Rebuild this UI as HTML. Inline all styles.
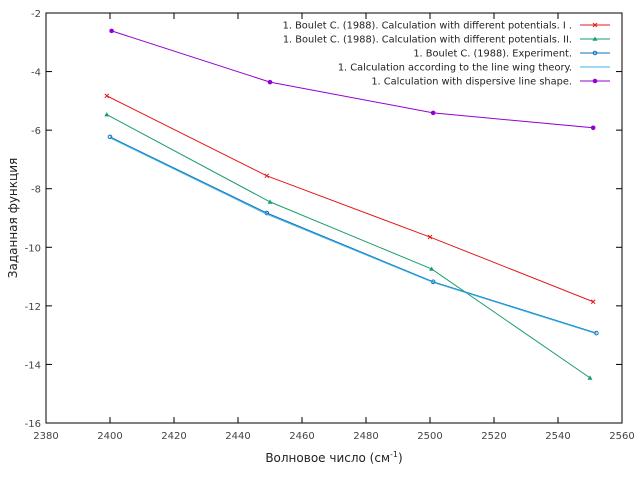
<!DOCTYPE html>
<html><head><meta charset="utf-8"><style>body{margin:0;background:#fff}svg{font-family:"DejaVu Sans","Liberation Sans",sans-serif}</style></head>
<body>
<svg id="c" width="640" height="480"></svg>
<script>
const xTicks=[2380,2400,2420,2440,2460,2480,2500,2520,2540,2560];
const yTicks=[-16,-14,-12,-10,-8,-6,-4,-2];
const labels=["1. Boulet C. (1988). Calculation with different potentials. I .","1. Boulet C. (1988). Calculation with different potentials. II.","1. Boulet C. (1988). Experiment.","1. Calculation according to the line wing theory.","1. Calculation with dispersive line shape."];
const colors=["#e41a1c","#1a9e6a","#0a72b8","#3bb0e8","#9400d3"];
const markers=["x","tri","circ","none","dot"];
const xRed=[2399,2449,2500,2551], yRed=[-4.83,-7.56,-9.65,-11.86];
const xGreen=[2399,2450,2500.5,2550], yGreen=[-5.47,-8.45,-10.74,-14.46];
const xExp=[2400,2449,2501,2552], yExp=[-6.23,-8.83,-11.18,-12.93];
const xWing=[2400,2449,2501,2552], yWing=[-6.26,-8.87,-11.2,-12.95];
const xDisp=[2400.5,2450,2501,2551], yDisp=[-2.61,-4.36,-5.41,-5.92];
const series=[[xRed,yRed],[xGreen,yGreen],[xExp,yExp],[xWing,yWing],[xDisp,yDisp]];
const L=46,R=622,T=13,B=423;
const sx=v=>L+(v-2380)/180*(R-L), sy=v=>T+(-2-v)/14*(B-T);
const svg=document.getElementById('c');const NS="http://www.w3.org/2000/svg";
function el(t,a,p){const e=document.createElementNS(NS,t);for(const k in a)e.setAttribute(k,a[k]);(p||svg).appendChild(e);return e;}
const frame=el('rect',{x:L,y:T,width:R-L,height:B-T,fill:'none',stroke:'#000','stroke-width':1});

xTicks.forEach(v=>{const x=sx(v);
 el('line',{x1:x,y1:B,x2:x,y2:B-6,stroke:'#000'});el('line',{x1:x,y1:T,x2:x,y2:T+6,stroke:'#000'});
 const t=el('text',{x:x,y:B+16,'text-anchor':'middle','font-size':10,fill:'#444'});t.textContent=v;
 });
yTicks.forEach(v=>{const y=sy(v);
 el('line',{x1:L,y1:y,x2:L+6,y2:y,stroke:'#000'});el('line',{x1:R,y1:y,x2:R-6,y2:y,stroke:'#000'});
 const t=el('text',{x:L-5,y:y+4,'text-anchor':'end','font-size':10,fill:'#444'});t.textContent=v;
 });
function mark(m,x,y,c,g){
 if(m==='x'){el('path',{d:`M${x-2} ${y-2}L${x+2} ${y+2}M${x-2} ${y+2}L${x+2} ${y-2}`,stroke:c,'stroke-width':1},g);}
 else if(m==='tri'){el('path',{d:`M${x} ${y-2.5}L${x+2.5} ${y+1.8}L${x-2.5} ${y+1.8}Z`,fill:c},g);}
 else if(m==='circ'){el('circle',{cx:x,cy:y,r:1.8,fill:'none',stroke:c,'stroke-width':1},g);}
 else if(m==='dot'){el('circle',{cx:x,cy:y,r:2.3,fill:c},g);}
}
series.forEach((s,i)=>{const g=el('g',{});
 
 const pts=s[0].map((x,j)=>sx(x)+','+sy(s[1][j])).join(' ');
 el('polyline',{points:pts,fill:'none',stroke:colors[i],'stroke-width':1},g);
 s[0].forEach((x,j)=>mark(markers[i],sx(x),sy(s[1][j]),colors[i],g));
 const ly=25+i*14;
 const t=el('text',{x:572,y:ly+3.5,'text-anchor':'end','font-size':9.8,fill:'#222'});t.textContent=labels[i];
 
 el('line',{x1:580,y1:ly,x2:610,y2:ly,stroke:colors[i]},g);mark(markers[i],595,ly,colors[i],g);
});
const xt=el('text',{x:334,y:462,'text-anchor':'middle','font-size':12,fill:'#222'});
xt.innerHTML='Волновое число (см<tspan dy="-5" font-size="8">-1</tspan><tspan dy="5">)</tspan>';

const yt=el('text',{x:17,y:218,'text-anchor':'middle','font-size':12,fill:'#222',transform:'rotate(-90 17 218)'});
yt.textContent='Заданная функция';

</script>
</body></html>
